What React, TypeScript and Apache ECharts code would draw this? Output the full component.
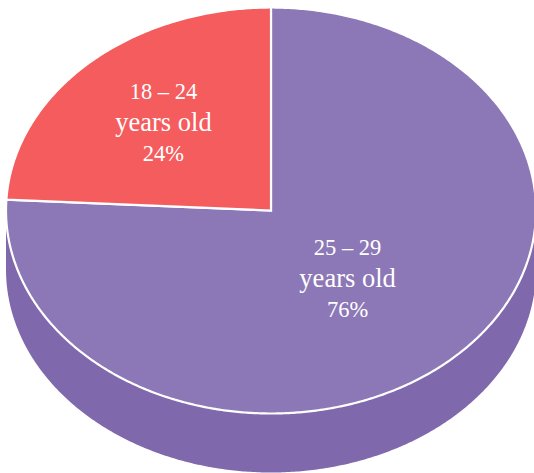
import React, { useEffect, useRef } from "react";
import * as echarts from "echarts";

const categories = ["25 – 29", "18 – 24"];
const unitLabel = "years old";
const shares = [75.85, 24.15];

const topColors = ["#8C78B6", "#F45C5E"];
const wallColors = ["#8068AC", "#D94F51"];
const labelRadiiX = [0.42, 0.59];
const labelRadiiY = [0.46, 0.6];

const WIDTH = 534;
const HEIGHT = 473;
const CX = 271;
const CY = 210.5;
const RX = 265;
const RY = 203;
const DEPTH = 59;

const total = shares.reduce((a, b) => a + b, 0);

const ellipsePoint = (deg: number, dy = 0): number[] => {
  const a = (deg * Math.PI) / 180;
  return [CX + RX * Math.sin(a), CY + dy - RY * Math.cos(a)];
};

const arcPoints = (from: number, to: number, dy = 0): number[][] => {
  const pts: number[][] = [];
  const steps = Math.max(2, Math.ceil((to - from) * 2));
  for (let i = 0; i <= steps; i++) pts.push(ellipsePoint(from + ((to - from) * i) / steps, dy));
  return pts;
};

const renderSlice = (params: any, api: any) => {
  const i = params.dataIndex;
  let before = 0;
  for (let k = 0; k < i; k++) before += shares[k];
  const start = (before / total) * 360;
  const end = ((before + api.value(0)) / total) * 360;
  const children: any[] = [];

  const wallFrom = Math.max(start, 90);
  const wallTo = Math.min(end, 270);
  if (wallTo > wallFrom) {
    children.push({
      type: "polygon",
      shape: {
        points: [...arcPoints(wallFrom, wallTo), ...arcPoints(wallFrom, wallTo, DEPTH).reverse()],
      },
      style: { fill: wallColors[i], stroke: null },
    });
  }

  children.push({
    type: "polygon",
    shape: { points: [[CX, CY], ...arcPoints(start, end)] },
    style: { fill: topColors[i], stroke: "#ffffff", lineWidth: 2.2, lineJoin: "miter" },
  });

  const mid = (start + end) / 2;
  const a = (mid * Math.PI) / 180;
  children.push({
    type: "text",
    x: CX + RX * labelRadiiX[i] * Math.sin(a),
    y: CY - RY * labelRadiiY[i] * Math.cos(a),
    style: {
      text: `{num|${categories[i]}}\n{unit|${unitLabel}}\n{num|${Math.round(api.value(0))}%}`,
      fill: "#ffffff",
      font: '24px "Liberation Serif"',
      align: "center",
      verticalAlign: "middle",
      rich: {
        num: { font: '22.5px "Liberation Serif"', fill: "#ffffff", lineHeight: 31 },
        unit: { font: '26.5px "Liberation Serif"', fill: "#ffffff", lineHeight: 31 },
      },
    },
  });

  return { type: "group", children };
};

export default function App() {
  const ref = useRef<HTMLDivElement>(null);
  useEffect(() => {
    document.body.style.margin = "0";
    const chart = echarts.init(ref.current!, undefined, { renderer: "svg" });
    chart.setOption({
      animation: false,
      backgroundColor: "#ffffff",
      series: [
        {
          type: "custom",
          coordinateSystem: "none",
          renderItem: renderSlice,
          data: shares.map((v) => [v]),
          silent: true,
        },
      ],
    });
    return () => chart.dispose();
  }, []);
  return <div ref={ref} style={{ width: WIDTH, height: HEIGHT }} />;
}
